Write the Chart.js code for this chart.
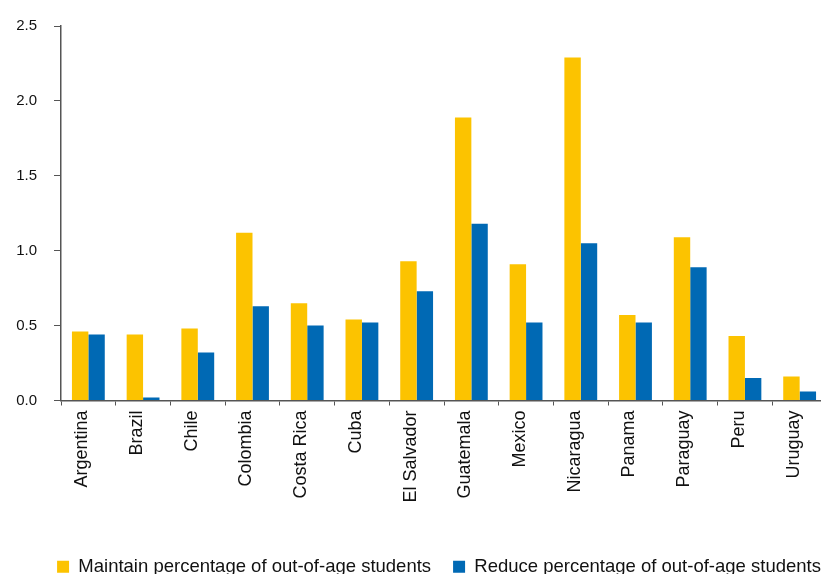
<!DOCTYPE html>
<html>
<head>
<meta charset="utf-8">
<script src="https://cdn.jsdelivr.net/npm/chart.js@4.4.1/dist/chart.umd.min.js"></script>
<style>
  html, body { margin: 0; padding: 0; overflow: hidden; background: #fff; }
  #wrap { position: relative; width: 878px; height: 586px; }
</style>
</head>
<body>
<div id="wrap"><canvas id="graf"></canvas></div>
<script>
const countries = ['Argentina', 'Brazil', 'Chile', 'Colombia', 'Costa Rica', 'Cuba', 'El Salvador',
    'Guatemala', 'Mexico', 'Nicaragua', 'Panama', 'Paraguay', 'Peru', 'Uruguay'];

const maintainVals = [0.46, 0.44, 0.48, 1.12, 0.65, 0.54, 0.93, 1.89, 0.91, 2.29, 0.57, 1.09, 0.43, 0.16];
const reduceVals   = [0.44, 0.02, 0.32, 0.63, 0.50, 0.52, 0.73, 1.18, 0.52, 1.05, 0.52, 0.89, 0.15, 0.06];

const seriesNames = ['Maintain percentage of out-of-age students', 'Reduce percentage of out-of-age students'];

const yTicks = [0, 0.5, 1.0, 1.5, 2.0, 2.5];

const fontFam = '"Liberation Sans", Arial, Helvetica, sans-serif';
const axisGrey = '#555555';

const ctx = document.getElementById('graf').getContext('2d');
const chart = new Chart(ctx, {
    type: 'bar',
    data: {
        labels: countries,
        datasets: [
            {
                label: seriesNames[0],
                data: maintainVals,
                backgroundColor: '#fcc300',
                barPercentage: 1.0,
                categoryPercentage: 0.6
            },
            {
                label: seriesNames[1],
                data: reduceVals,
                backgroundColor: '#0069b4',
                barPercentage: 1.0,
                categoryPercentage: 0.6
            }
        ]
    },
    options: {
        responsive: true,
        maintainAspectRatio: false,
        animation: false,
        layout: { padding: { top: 23, right: 0, left: 0, bottom: 0 } },
        scales: {
            x: {
                grid: { drawOnChartArea: false, drawTicks: true, tickLength: 5, color: axisGrey, offset: true },
                border: { display: true, color: axisGrey, width: 1.5 },
                ticks: {
                    autoSkip: false,
                    minRotation: 90,
                    maxRotation: 90,
                    padding: 5,
                    labelOffset: -6,
                    color: '#111',
                    font: { family: fontFam, size: 18 }
                },
                afterFit: function(scale) { scale.height = 135; }
            },
            y: {
                min: 0,
                max: 2.5,
                afterBuildTicks: function(scale) {
                    scale.ticks = yTicks.map(v => ({ value: v }));
                },
                grid: { drawOnChartArea: false, drawTicks: true, tickLength: 7, color: axisGrey },
                border: { display: true, color: axisGrey, width: 1.5 },
                ticks: {
                    padding: 17,
                    color: '#111',
                    font: { family: fontFam, size: 15 },
                    callback: function(v) { return Number(v).toFixed(1); }
                },
                afterFit: function(scale) { scale.width = 61; }
            },
            // empty axis on the right, only keeps room so the legend stays centred on the whole figure
            yPad: {
                position: 'right',
                min: 0,
                max: 2.5,
                grid: { display: false },
                border: { display: false },
                ticks: { display: false },
                afterFit: function(scale) { scale.width = 51; }
            }
        },
        plugins: {
            legend: {
                position: 'bottom',
                labels: {
                    boxWidth: 12,
                    boxHeight: 12,
                    padding: 22,
                    color: '#111',
                    font: { family: fontFam, size: 18.5 }
                }
            },
            tooltip: { enabled: false }
        }
    }
});
</script>
</body>
</html>
